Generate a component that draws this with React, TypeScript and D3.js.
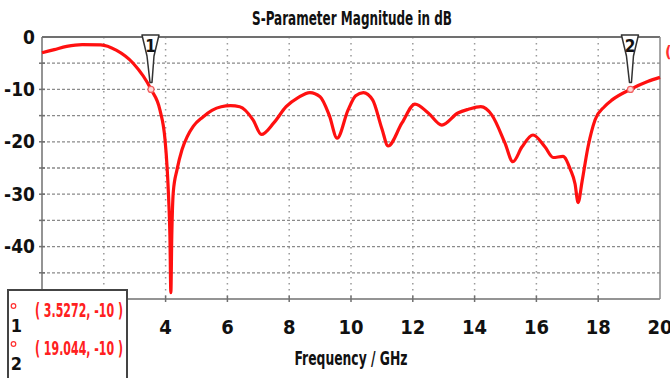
import React from "react";
import * as d3 from "d3";

// S11 trace (GHz, dB)
const freq = [0, 0.4, 0.8, 1.3, 1.9, 2.4, 2.95, 3.53, 3.82, 3.98, 4.05, 4.1, 4.14, 4.17, 4.2, 4.25, 4.37, 4.53, 4.7, 4.9, 5.2, 5.5, 5.8, 6.1, 6.4, 6.83, 7.1, 7.5, 7.9, 8.3, 8.67, 9.0, 9.3, 9.55, 9.9, 10.15, 10.4, 10.7, 11.0, 11.2, 11.65, 12.07, 12.5, 12.94, 13.46, 13.8, 14.2, 14.56, 14.98, 15.24, 15.53, 15.89, 16.28, 16.54, 16.86, 17.1, 17.25, 17.35, 17.48, 17.67, 17.9, 18.2, 18.45, 19.04, 19.6, 20];
const s11 = [-3.0, -2.4, -1.8, -1.45, -1.5, -2.5, -5, -10, -14, -19.5, -25, -31, -38, -48.8, -38, -29.5, -25.3, -21.5, -19, -17, -15.3, -14, -13.3, -13.1, -13.3, -15.8, -18.6, -16.4, -13.3, -11.5, -10.6, -11.4, -15, -19.3, -14, -11.2, -10.6, -12, -17.5, -20.8, -16.4, -12.8, -14.5, -16.8, -14.5, -13.8, -13.3, -14.9, -20.2, -23.8, -21, -18.7, -21, -23, -22.8, -25.3, -28, -31.6, -27.5, -21, -15.8, -13.3, -12, -10, -8.5, -7.7];

const markerNames = ["1", "2"];
const markerFreq = [3.5272, 19.044];
const markerVal = [-10, -10];
const markerText = ["( 3.5272, -10 )", "( 19.044, -10 )"];

const xTicks = [4, 6, 8, 10, 12, 14, 16, 18, 20];
const yTicks = [0, -10, -20, -30, -40];
const xGrid = [2, 4, 6, 8, 10, 12, 14, 16, 18];
const yGrid = [-5, -10, -15, -20, -25, -30, -35, -40, -45];

const W = 670;
const H = 378;
const font = "'Liberation Sans Narrow', 'DejaVu Sans Condensed', 'DejaVu Sans', sans-serif";

export default function App() {
  const x = d3.scaleLinear().domain([0, 20]).range([42, 660]);
  const y = d3.scaleLinear().domain([-50, 0]).range([299, 37]);
  const pts = freq.map((f, i) => [f, s11[i]] as [number, number]);
  const line = d3.line<[number, number]>()
    .x(d => x(d[0]))
    .y(d => y(d[1]))
    .curve(d3.curveMonotoneX);

  const top = y(0);

  return (
    <svg width={W} height={H} style={{ position: "absolute", left: 0, top: 0, background: "#fff" }}>
      {/* grid */}
      {yGrid.map(v => (
        <line key={"h" + v} x1={x(0)} x2={x(20)} y1={y(v)} y2={y(v)}
          stroke="#8a8a8a" strokeWidth={1.3} strokeDasharray="3,2" />
      ))}
      {xGrid.map(v => (
        <line key={"v" + v} x1={x(v)} x2={x(v)} y1={y(0)} y2={y(-50)}
          stroke="#9a9a9a" strokeWidth={1.5} strokeDasharray="1.5,4.5" />
      ))}
      {/* frame */}
      <line x1={x(0)} x2={x(20)} y1={top} y2={top} stroke="#707070" strokeWidth={2} />
      <line x1={x(0)} x2={x(20)} y1={y(-50)} y2={y(-50)} stroke="#707070" strokeWidth={1.5} />
      <line x1={x(0)} x2={x(0)} y1={top} y2={y(-50)} stroke="#707070" strokeWidth={1.5} />
      <line x1={x(20)} x2={x(20)} y1={top} y2={y(-50)} stroke="#8a8a8a" strokeWidth={1.5} />
      {xGrid.map(v => (
        <line key={"xt" + v} x1={x(v)} x2={x(v)} y1={y(-50) - 3} y2={y(-50) + 3} stroke="#707070" strokeWidth={1.5} />
      ))}
      {yGrid.map(v => (
        <line key={"yt" + v} x1={x(0) - 3} x2={x(0) + 3} y1={y(v)} y2={y(v)} stroke="#707070" strokeWidth={1.5} />
      ))}

      {/* trace */}
      <path d={line(pts) ?? ""} fill="none" stroke="#ff1010" strokeWidth={3.2} strokeLinejoin="round" />

      {/* markers */}
      {markerFreq.map((f, i) => {
        const mx = x(f);
        const my = y(markerVal[i]);
        const t = top - 2;
        const shape = `M${mx - 9},${t} L${mx + 8},${t} L${mx + 3},${t + 21} L${mx + 1},${my - 7} L${mx - 1},${my - 7} L${mx - 4},${t + 21} Z`;
        return (
          <g key={"m" + i}>
            <path d={shape} fill="#fff" stroke="#333" strokeWidth={1.5} strokeLinejoin="round" />
            <text x={mx - 0.5} y={t + 17} textAnchor="middle" fontFamily={font} fontWeight="bold" fontSize={17} fill="#111">
              {markerNames[i]}
            </text>
            <circle cx={mx} cy={my} r={3} fill="#ffd6d6" stroke="#f06060" strokeWidth={1.2} />
          </g>
        );
      })}

      {/* axis labels */}
      {yTicks.map(v => (
        <text key={"yl" + v} x={35} y={y(v)} dy="0.35em" textAnchor="end" fontFamily={font} fontWeight="bold" fontSize={19} fill="#111">
          {v}
        </text>
      ))}
      {xTicks.map(v => (
        <text key={"xl" + v} x={x(v)} y={334} textAnchor="middle" fontFamily={font} fontWeight="bold" fontSize={20} fill="#111">
          {v}
        </text>
      ))}
      <text x={352} y={25} textAnchor="middle" fontFamily={font} fontWeight="bold" fontSize={20}
        textLength={200} lengthAdjust="spacingAndGlyphs" fill="#111">S-Parameter Magnitude in dB</text>
      <text x={351} y={365} textAnchor="middle" fontFamily={font} fontWeight="bold" fontSize={20}
        textLength={113} lengthAdjust="spacingAndGlyphs" fill="#111">Frequency / GHz</text>

      {/* clipped legend remnant at right edge */}
      <text x={665} y={57} fontFamily={font} fontWeight="bold" fontSize={16} fill="#ff3030">(</text>

      {/* marker table */}
      <rect x={8} y={290} width={119} height={100} fill="#fff" stroke="#444" strokeWidth={2} />
      {markerText.map((s, i) => {
        const cy = 310 + i * 38;
        return (
          <g key={"lt" + i}>
            <circle cx={13.5} cy={cy - 4} r={2.3} fill="none" stroke="#ff3030" strokeWidth={1.2} />
            <text x={16.5} y={cy + 22} textAnchor="middle" fontFamily={font} fontWeight="bold" fontSize={18} fill="#111">
              {markerNames[i]}
            </text>
            <text x={35} y={cy + 7} fontFamily={font} fontWeight="bold" fontSize={19}
              textLength={88} lengthAdjust="spacingAndGlyphs" fill="#ff2020">{s}</text>
          </g>
        );
      })}
    </svg>
  );
}
